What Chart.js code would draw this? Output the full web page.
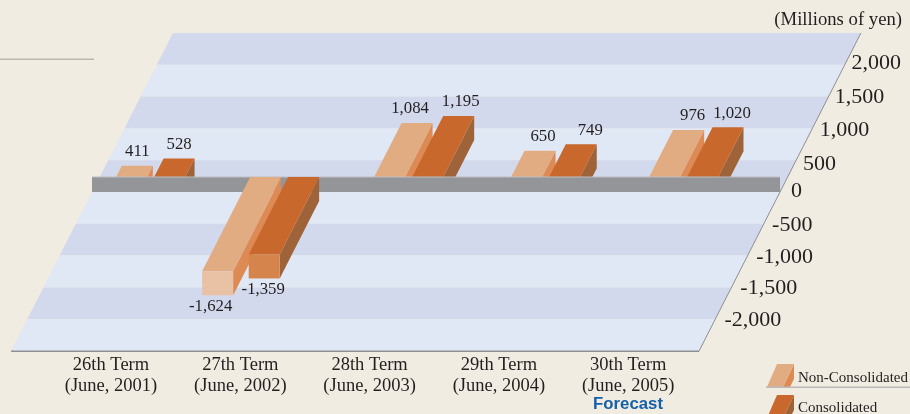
<!DOCTYPE html>
<html>
<head>
<meta charset="utf-8">
<style>html,body{margin:0;padding:0;background:#F0ECE1;overflow:hidden}canvas{display:block}</style>
<script src="https://cdn.jsdelivr.net/npm/chart.js@4/dist/chart.umd.min.js"></script>
</head>
<body>
<canvas id="c" width="910" height="414"></canvas>
<script>
const categories = [["26th Term","(June, 2001)"],["27th Term","(June, 2002)"],["28th Term","(June, 2003)"],["29th Term","(June, 2004)"],["30th Term","(June, 2005)"]];
const nonConsolidated = [411,-1624,1084,650,976];
const consolidated = [528,-1359,1195,749,1020];
const yTickValues = [2000,1500,1000,500,0,-500,-1000,-1500,-2000];
const unitLabel = "(Millions of yen)";
const forecastLabel = "Forecast";

// layout
const SERIF = '"Liberation Serif", serif';
const K = 0.509, THICK = 24, GRAY_H = 15, PLANE_L = 92, PLANE_R = 780;
const groupShift = [0,1,-8,-4,1];
const labelShift = [[0,-7,-7,3,4],[0,-1,2,9,4]];
const tickShiftY = [-2,1,2,4,-1,1,2,1,1];
const tickShiftX = [0,-1,0,-1,3,0,0,0,0];
const faces = [
  {top:'#E2AC82', side:'#DE8A55', front:'#E9C2A5'},
  {top:'#C9682C', side:'#9F6339', front:'#D5844C'}
];

function poly(ctx, pts, fill){
  ctx.beginPath();
  pts.forEach((p,i)=> i ? ctx.lineTo(p[0],p[1]) : ctx.moveTo(p[0],p[1]));
  ctx.closePath(); ctx.fillStyle = fill; ctx.fill();
}

function drawBar(ctx, el, i, f, zero, gt){
  const w = el.width, Y = el.y;
  const xAt = y => el.x - w/2 + groupShift[i] + K*(zero - y);
  if (Y < zero){
    ctx.save();
    ctx.beginPath(); ctx.rect(0,0,910,gt); ctx.clip();
    poly(ctx,[[xAt(Y)+w,Y],[xAt(Y)+w,Y+THICK],[xAt(gt)+w,gt+THICK],[xAt(gt)+w,gt]],f.side);
    poly(ctx,[[xAt(Y),Y],[xAt(Y)+w,Y],[xAt(gt)+w,gt],[xAt(gt),gt]],f.top);
    ctx.restore();
  } else {
    const b = Y - THICK;
    poly(ctx,[[xAt(gt)+w,gt],[xAt(gt)+w,gt+THICK],[xAt(b)+w,Y],[xAt(b)+w,b]],f.side);
    poly(ctx,[[xAt(gt),gt],[xAt(gt)+w,gt],[xAt(b)+w,b],[xAt(b),b]],f.top);
    poly(ctx,[[xAt(b),b],[xAt(b)+w,b],[xAt(b)+w,Y],[xAt(b),Y]],f.front);
  }
}

function swatch(ctx, f, y){
  poly(ctx,[[794,y],[794,y+15],[790,y+23],[783,y+23]],f.side);
  poly(ctx,[[767,y+23],[777,y],[794,y],[783,y+23]],f.top);
}

const scene3d = {
  id:'scene3d',
  beforeDraw(chart){
    const c = chart.ctx;
    c.save(); c.fillStyle='#F0ECE1'; c.fillRect(0,0,910,414); c.restore();
  },
  afterLayout(chart){
    const xs = chart.scales.x, ys = chart.scales.y;
    if (!xs._wrapped){
      const o = xs._computeLabelItems.bind(xs);
      xs._computeLabelItems = a => { const it = o(a);
        it.forEach((t,i)=>{ t.options.translation[0] = 111 + 129.3*i; });
        return it; };
      xs._computeLabelArea = () => undefined;
      xs._wrapped = true;
    }
    if (!ys._wrapped){
      const o = ys._computeLabelItems.bind(ys);
      ys._computeLabelItems = a => { const it = o(a);
        const zero = ys.getPixelForValue(0);
        it.forEach((t,i)=>{ const y = t.options.translation[1];
          t.options.translation[0] = 788 + 0.5*(zero - y) + tickShiftX[i];
          t.options.translation[1] = y + tickShiftY[i];
          t.options.textAlign = 'left'; });
        return it; };
      ys._computeLabelArea = () => undefined;
      ys._wrapped = true;
    }
  },
  beforeDatasetsDraw(chart){
    const c = chart.ctx, ys = chart.scales.y;
    const zero = ys.getPixelForValue(0), gt = zero - GRAY_H;
    const sx = y => K*(zero - y);
    c.save();
    // bands
    for (let v = 2500, n = 0; v > -2500; v -= 500, n++){
      const a = ys.getPixelForValue(v), b = ys.getPixelForValue(v-500);
      poly(c,[[PLANE_L+sx(a),a],[PLANE_R+sx(a),a],[PLANE_R+sx(b),b],[PLANE_L+sx(b),b]], n%2 ? '#E0E7F5' : '#D3D9EC');
    }
    const top = ys.getPixelForValue(2500), bot = ys.getPixelForValue(-2500);
    c.strokeStyle='#8E8F92'; c.lineWidth=1;
    c.beginPath(); c.moveTo(PLANE_R+sx(top),top); c.lineTo(PLANE_R+sx(bot),bot); c.stroke();
    c.lineWidth=1.5;
    c.beginPath(); c.moveTo(PLANE_R+sx(bot),bot+0.25); c.lineTo(PLANE_L+sx(bot),bot+0.25); c.stroke();
    // positive bars
    const metas = [chart.getDatasetMeta(0), chart.getDatasetMeta(1)];
    metas.forEach((m,s)=> m.data.forEach((el,i)=>{ if (el.y < zero) drawBar(c,el,i,faces[s],zero,gt); }));
    // zero slab
    c.fillStyle='#939598'; c.fillRect(PLANE_L,gt,PLANE_R-PLANE_L,GRAY_H);
    c.fillStyle='#BDBEC2'; c.fillRect(PLANE_L,gt-0.5,PLANE_R-PLANE_L,1);
    // negative bars
    metas.forEach((m,s)=> m.data.forEach((el,i)=>{ if (el.y >= zero) drawBar(c,el,i,faces[s],zero,gt); }));
    c.restore();
  },
  beforeDatasetDraw(){ return false; },
  afterDatasetsDraw(chart){
    const c = chart.ctx, ys = chart.scales.y;
    const zero = ys.getPixelForValue(0);
    c.save();
    c.fillStyle='#231F20'; c.textAlign='center'; c.textBaseline='middle';
    c.font='16.8px '+SERIF;
    chart.data.datasets.forEach((d,s)=>{
      chart.getDatasetMeta(s).data.forEach((el,i)=>{
        const v = d.data[i];
        const cx = el.x + groupShift[i] + labelShift[s][i];
        if (v >= 0) c.fillText(v.toLocaleString('en-US'), cx + K*(zero-el.y), el.y-14);
        else c.fillText(v.toLocaleString('en-US'), cx + K*(zero-(el.y-THICK)), el.y+11);
      });
    });
    // unit
    c.textAlign='right'; c.font='18.7px '+SERIF; c.fillText(unitLabel,902,20);
    // decorative rule
    c.fillStyle='#BDB9B0'; c.fillRect(0,58.5,94,1.5);
    // forecast
    c.textAlign='center'; c.font='bold 16.8px "Liberation Sans", sans-serif'; c.fillStyle='#1560A8';
    c.fillText(forecastLabel,628,404);
    // legend
    swatch(c,faces[0],364);
    c.fillStyle='#B9B9B9'; c.fillRect(766,386.5,144,1.5);
    swatch(c,faces[1],395);
    c.fillStyle='#231F20'; c.textAlign='left'; c.font='15px '+SERIF;
    c.fillText(chart.data.datasets[0].label,798,378);
    c.fillText(chart.data.datasets[1].label,798,408);
    c.restore();
  }
};

new Chart(document.getElementById('c'),{
  type:'bar',
  data:{labels:categories,datasets:[
    {label:'Non-Consolidated',data:nonConsolidated,backgroundColor:faces[0].top,categoryPercentage:0.5714,barPercentage:0.8158},
    {label:'Consolidated',data:consolidated,backgroundColor:faces[1].top,categoryPercentage:0.5714,barPercentage:0.8158}
  ]},
  plugins:[scene3d],
  options:{
    responsive:false,animation:false,
    layout:{padding:{left:76.5,right:168.5,top:33,bottom:63}},
    plugins:{legend:{display:false},tooltip:{enabled:false},title:{display:false}},
    scales:{
      x:{
        grid:{display:false,drawTicks:false},border:{display:false},
        afterFit(s){s.height=0;},
        ticks:{autoSkip:false,maxRotation:0,minRotation:0,padding:4,color:'#231F20',
          font:{family:SERIF,size:18.5,lineHeight:1.13}}
      },
      y:{
        position:'right',min:-2500,max:2500,
        grid:{display:false,drawTicks:false},border:{display:false},
        afterFit(s){s.width=0;},
        afterBuildTicks(s){s.ticks=yTickValues.map(value=>({value}));},
        ticks:{color:'#231F20',font:{family:SERIF,size:22},
          callback(v){return Number(v).toLocaleString('en-US');}}
      }
    }
  }
});
</script>
</body>
</html>
